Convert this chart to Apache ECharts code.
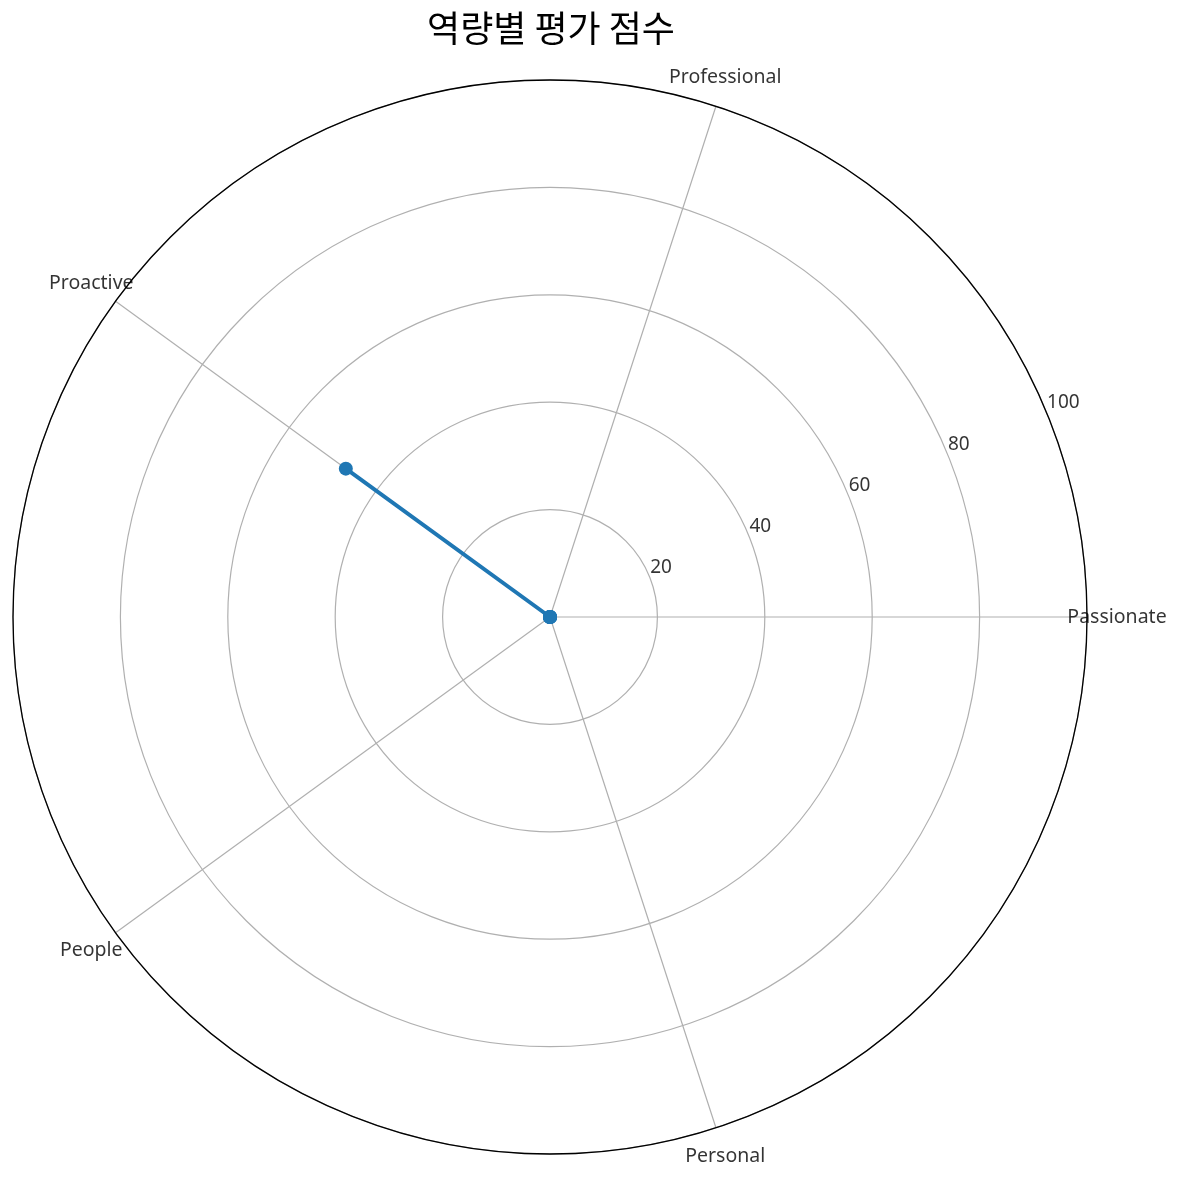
<!DOCTYPE html>
<html><head><meta charset="utf-8">
<script src="https://cdn.jsdelivr.net/npm/echarts@6/dist/echarts.min.js"></script>
<style>html,body{margin:0;padding:0;background:#fff}#c{width:1181px;height:1180px}</style>
</head><body><div id="c"></div>
<script>
const categories = ['Passionate', 'Professional', 'Proactive', 'People', 'Personal'];
const scores = [0, 0, 47, 0, 0];
const radialTicks = [20, 40, 60, 80, 100];
const titleText = '역량별 평가 점수';

const FONT = '"Noto Sans", "Noto Sans CJK KR", sans-serif';
const step = 360 / categories.length;
const angles = categories.map((_, i) => i * step);
const lineData = scores.map((v, i) => [v, angles[i]]);
lineData.push([scores[0], 360]);

const chart = echarts.init(document.getElementById('c'), null, {renderer: 'canvas'});
chart.setOption({
  animation: false,
  backgroundColor: '#fff',
  title: {
    text: titleText, left: 546, textAlign: 'center', top: 5,
    textStyle: {fontFamily: '"Noto Sans CJK KR", sans-serif', fontSize: 36, fontWeight: 'normal', color: '#000'}
  },
  polar: [
    {center: [550, 617], radius: 537},
    {center: [550, 617], radius: 567}
  ],
  angleAxis: [
    {polarIndex: 0, type: 'value', min: 0, max: 360, interval: step, startAngle: 0, clockwise: false,
     axisLine: {show: true, lineStyle: {color: '#000', width: 1.3}},
     axisTick: {show: false}, axisLabel: {show: false},
     splitLine: {show: true, lineStyle: {color: '#b0b0b0', width: 1.2}}},
    {polarIndex: 1, type: 'value', min: 0, max: 360, interval: step, startAngle: 0, clockwise: false,
     axisLine: {show: false}, axisTick: {show: false}, axisLabel: {show: false}, splitLine: {show: false}}
  ],
  radiusAxis: [
    {polarIndex: 0, type: 'value', min: 0, max: 100, interval: 20,
     axisLine: {show: false}, axisTick: {show: false}, axisLabel: {show: false},
     splitLine: {show: true, lineStyle: {color: '#b0b0b0', width: 1.2}}},
    {polarIndex: 1, type: 'value', min: 0, max: 100,
     axisLine: {show: false}, axisTick: {show: false}, axisLabel: {show: false}, splitLine: {show: false}}
  ],
  series: [
    {type: 'scatter', coordinateSystem: 'polar', polarIndex: 0, symbolSize: 0, silent: true,
     data: radialTicks.map(t => [t, 22.5]),
     label: {show: true, position: [1, 1], align: 'left', verticalAlign: 'bottom',
       formatter: p => String(p.value[0]), fontFamily: FONT, fontSize: 19, color: '#000',
       textBorderWidth: 0}},
    {type: 'scatter', coordinateSystem: 'polar', polarIndex: 1, symbolSize: 0, silent: true,
     data: categories.map((c, i) => ({name: c, value: [100, angles[i]]})),
     label: {show: true, position: [0, 0], align: 'center', verticalAlign: 'middle',
       formatter: p => p.name, fontFamily: FONT, fontSize: 19.5, color: '#000',
       textBorderWidth: 0}},
    {type: 'line', coordinateSystem: 'polar', polarIndex: 0, data: lineData,
     symbol: 'circle', symbolSize: 14, showSymbol: true,
     lineStyle: {color: '#1f77b4', width: 4},
     itemStyle: {color: '#1f77b4'}, z: 5}
  ]
});
</script></body></html>
